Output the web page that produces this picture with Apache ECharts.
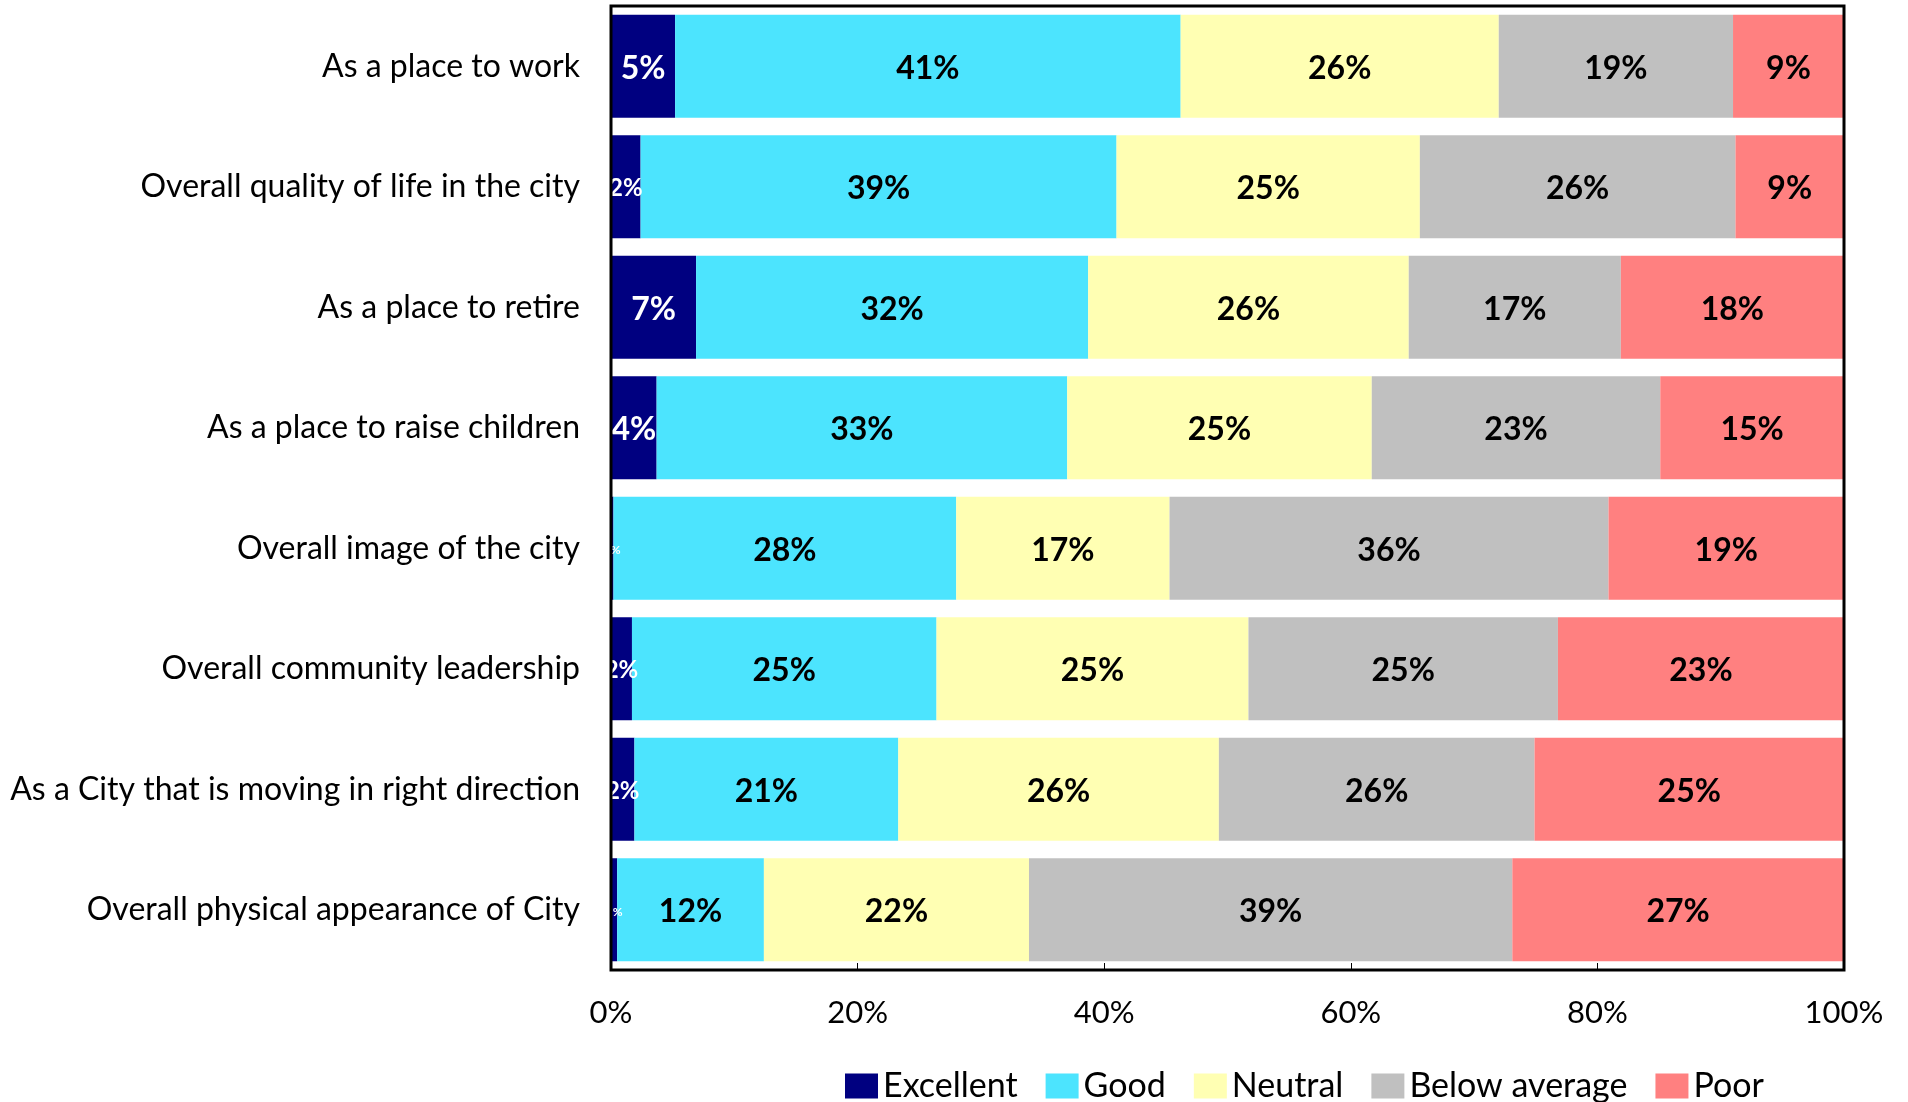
<!DOCTYPE html>
<html>
<head>
<meta charset="utf-8">
<title>City ratings</title>
<script src="https://cdn.jsdelivr.net/npm/echarts@6/dist/echarts.min.js"></script>
<style>
  html, body { margin: 0; padding: 0; background: #fff; }
  #chart { width: 1908px; height: 1102px; }
</style>
</head>
<body>
<div id="chart"></div>
<script>
  // rows, top to bottom
  const categories = [
    'As a place to work',
    'Overall quality of life in the city',
    'As a place to retire',
    'As a place to raise children',
    'Overall image of the city',
    'Overall community leadership',
    'As a City that is moving in right direction',
    'Overall physical appearance of City'
  ]
  const seriesNames = ['Excellent', 'Good', 'Neutral', 'Below average', 'Poor']
  const excellent = [5.2, 2.4, 6.9, 3.7, 0.2, 1.7, 1.9, 0.5]
  const good = [41.0, 38.6, 31.8, 33.3, 27.8, 24.7, 21.4, 11.9]
  const neutral = [25.8, 24.6, 26.0, 24.7, 17.3, 25.3, 26.0, 21.5]
  const belowAverage = [19.0, 25.6, 17.2, 23.4, 35.6, 25.1, 25.6, 39.2]
  const poor = [9.0, 8.8, 18.1, 14.9, 19.1, 23.2, 25.1, 26.9]
  const xTicks = [0, 20, 40, 60, 80, 100]

  const colors = ['#000080', '#4ce4fe', '#ffffb3', '#c0c0c0', '#ff8080']
  const allValues = [excellent, good, neutral, belowAverage, poor]

  // small segments get a smaller label, like the original
  function labelSize(v) {
    if (v < 1) return 12
    if (v < 3) return 24
    return 32
  }

  const series = seriesNames.map(function(name, i) {
    return {
      name: name,
      type: 'bar',
      stack: 'total',
      barCategoryGap: '14.5%',
      itemStyle: { color: colors[i] },
      label: {
        show: true,
        position: 'inside',
        offset: [0, 2],
        color: i === 0 ? '#fff' : '#000',
        fontWeight: 'bold',
        fontFamily: 'Lato',
        formatter: function(p) { return Math.round(p.value) + '%' }
      },
      data: allValues[i].map(function(v) {
        return { value: v, label: { fontSize: labelSize(v) } }
      })
    }
  })

  const chart = echarts.init(document.getElementById('chart'))
  chart.setOption({
    animation: false,
    textStyle: { fontFamily: 'Lato', color: '#000' },
    grid: {
      left: 611,
      right: 64,
      top: 6,
      bottom: 132,
      show: true,
      borderColor: '#000',
      borderWidth: 3,
      z: 10
    },
    legend: {
      data: seriesNames,
      left: 840,
      top: 1064,
      itemWidth: 33,
      itemHeight: 25,
      itemGap: 28,
      icon: 'rect',
      textStyle: { fontSize: 34, color: '#000', fontFamily: 'Lato' }
    },
    xAxis: {
      type: 'value',
      min: xTicks[0],
      max: xTicks[xTicks.length - 1],
      interval: 20,
      axisLine: { show: false },
      axisTick: { show: true, inside: true, length: 7, lineStyle: { color: '#000', width: 1 } },
      splitLine: { show: false },
      axisLabel: {
        margin: 27,
        fontSize: 31,
        color: '#000',
        formatter: '{value}%'
      }
    },
    yAxis: {
      type: 'category',
      inverse: true,
      data: categories,
      axisLine: { show: false },
      axisTick: { show: false },
      axisLabel: { margin: 31, fontSize: 32, color: '#000', padding: [4, 0, 0, 0] }
    },
    series: series
  })
</script>
</body>
</html>
